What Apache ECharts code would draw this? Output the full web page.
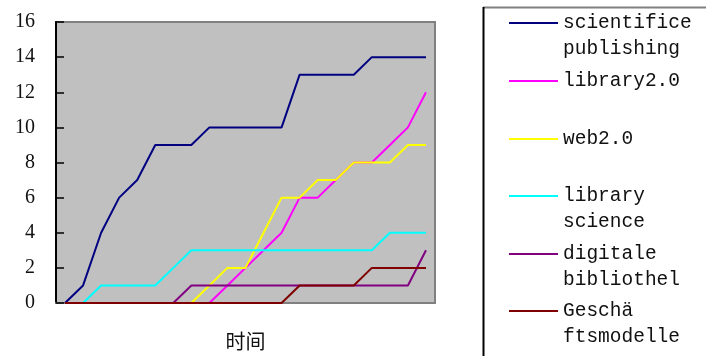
<!DOCTYPE html>
<html>
<head>
<meta charset="utf-8">
<script src="https://cdn.jsdelivr.net/npm/echarts@6/dist/echarts.min.js"></script>
<style>
  html, body { margin: 0; padding: 0; background: #fff; }
  #chart { width: 706px; height: 356px; }
</style>
</head>
<body>
<div id="chart"></div>
<script>
// Time steps (unlabelled on the axis)
const periods = ['1','2','3','4','5','6','7','8','9','10','11','12','13','14','15','16','17','18','19','20','21'];

const seriesNames = [
  'scientifice\npublishing',
  'library2.0',
  'web2.0',
  'library\nscience',
  'digitale\nbibliothel',
  'Geschä\nftsmodelle'
];

const scientificPublishing = [0, 1, 4, 6, 7, 9, 9, 9, 10, 10, 10, 10, 10, 13, 13, 13, 13, 14, 14, 14, 14];
const library20            = [0, 0, 0, 0, 0, 0, 0, 0, 0, 1, 2, 3, 4, 6, 6, 7, 8, 8, 9, 10, 12];
const web20                = [0, 0, 0, 0, 0, 0, 0, 0, 1, 2, 2, 4, 6, 6, 7, 7, 8, 8, 8, 9, 9];
const libraryScience       = [0, 0, 1, 1, 1, 1, 2, 3, 3, 3, 3, 3, 3, 3, 3, 3, 3, 3, 4, 4, 4];
const digitaleBibliothek   = [0, 0, 0, 0, 0, 0, 0, 1, 1, 1, 1, 1, 1, 1, 1, 1, 1, 1, 1, 1, 3];
const geschaeftsmodelle    = [0, 0, 0, 0, 0, 0, 0, 0, 0, 0, 0, 0, 0, 1, 1, 1, 1, 2, 2, 2, 2];

const seriesValues = [scientificPublishing, library20, web20, libraryScience, digitaleBibliothek, geschaeftsmodelle];
const seriesColors = ['#000080', '#FF00FF', '#FFFF00', '#00FFFF', '#800080', '#800000'];

const yTicks = { min: 0, max: 16, interval: 2 };

const chart = echarts.init(document.getElementById('chart'));

// One legend per entry, stacked down the right-hand panel.
// The key line sits level with the first line of each name: two-line names
// get a blank leading line so the (vertically centred) text block puts
// line one on the key.
const lineH = 26;
const iconCenters = [24, 82, 140, 197, 255, 312];
const legends = seriesNames.map((name, i) => {
  const n = name.split('\n').length;
  return {
    data: [name],
    orient: 'vertical',
    left: 509,
    top: iconCenters[i] - 1 - (2 * n - 1) * lineH / 2,
    padding: 0,
    icon: 'rect',
    itemWidth: 49,
    itemHeight: 2,
    itemGap: 0,
    selectedMode: false,
    formatter: (label) => (label.indexOf('\n') >= 0 ? ' \n' + label : label),
    textStyle: {
      fontFamily: 'Liberation Mono',
      fontSize: 19.5,
      color: '#111',
      lineHeight: lineH
    }
  };
});

chart.setOption({
  animation: false,
  backgroundColor: '#fff',
  grid: {
    left: 56, right: 271, top: 22, bottom: 52,
    show: true,
    backgroundColor: '#C0C0C0',
    borderColor: '#808080',
    borderWidth: 2
  },
  legend: legends,
  xAxis: {
    type: 'category',
    data: periods,
    boundaryGap: true,
    name: '时间',
    nameLocation: 'middle',
    nameGap: 28,
    nameTextStyle: { fontFamily: 'Noto Sans CJK SC', fontSize: 20, color: '#111' },
    axisLine: { lineStyle: { color: '#808080', width: 2 } },
    axisTick: { show: false },
    axisLabel: { show: false },
    splitLine: { show: false }
  },
  yAxis: {
    type: 'value',
    min: yTicks.min,
    max: yTicks.max,
    interval: yTicks.interval,
    axisLine: { show: true, lineStyle: { color: '#000', width: 2 } },
    axisTick: { show: true, inside: true, length: 8, lineStyle: { color: '#000', width: 1.5 } },
    axisLabel: { fontFamily: 'Liberation Serif', fontSize: 20, color: '#111', margin: 21 },
    splitLine: { show: false }
  },
  graphic: [
    { type: 'line', shape: { x1: 483, y1: 7.5, x2: 720, y2: 7.5 }, style: { stroke: '#808080', lineWidth: 2 } },
    { type: 'line', shape: { x1: 483.5, y1: 7, x2: 483.5, y2: 360 }, style: { stroke: '#000', lineWidth: 2 } }
  ],
  series: seriesNames.map((name, i) => ({
    name: name,
    type: 'line',
    data: seriesValues[i],
    symbol: 'none',
    lineStyle: { color: seriesColors[i], width: 2 },
    itemStyle: { color: seriesColors[i] }
  }))
});
</script>
</body>
</html>
